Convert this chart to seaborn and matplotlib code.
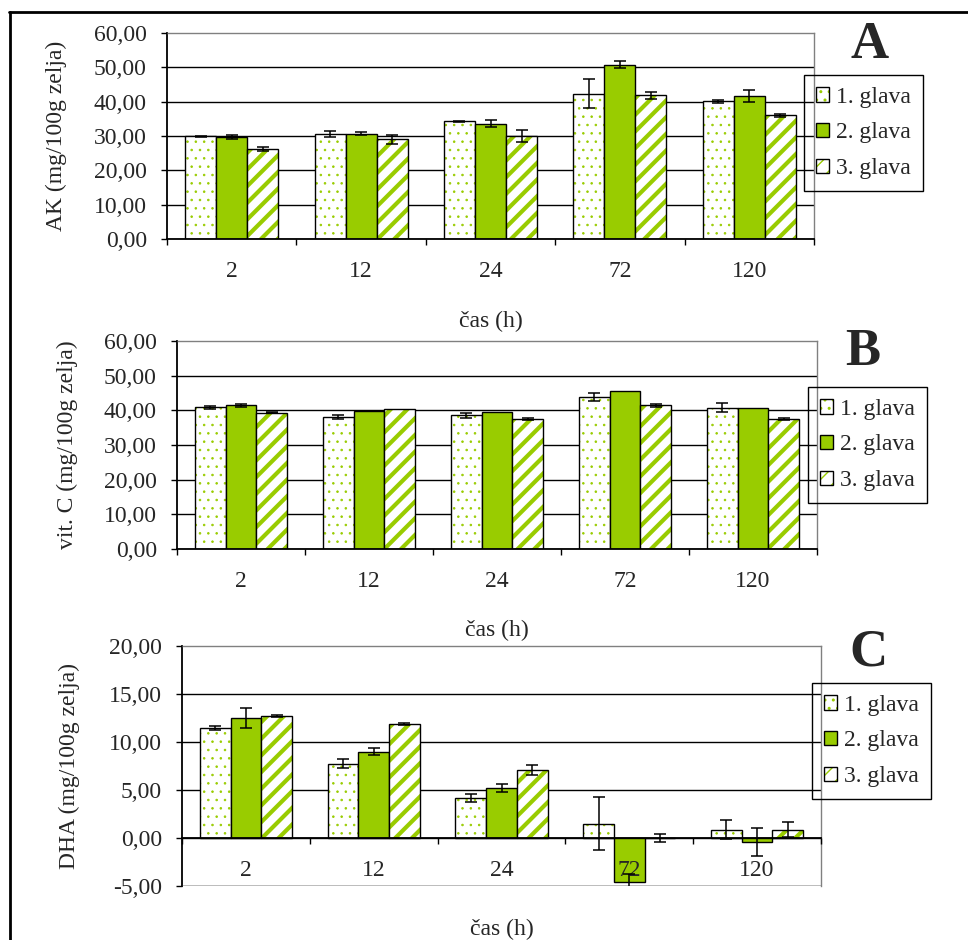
import pandas as pd
import numpy as np
import matplotlib
matplotlib.use("Agg")
import matplotlib.pyplot as plt
import matplotlib.colors as mcolors
from matplotlib.lines import Line2D
import seaborn as sns

CAS = ["2", "12", "24", "72", "120"]
GLAVE = ["1. glava", "2. glava", "3. glava"]

# A - AK (mg/100g zelja)
AK_1 = [29.9, 30.5, 34.3, 42.3, 40.1]
AK_2 = [29.7, 30.7, 33.6, 50.8, 41.7]
AK_3 = [26.2, 29.0, 30.0, 41.8, 36.0]
AK_1_ERR = [0.2, 0.9, 0.1, 4.2, 0.4]
AK_2_ERR = [0.5, 0.4, 1.0, 1.1, 1.8]
AK_3_ERR = [0.5, 1.4, 1.8, 0.9, 0.4]

# B - vit. C (mg/100g zelja)
VITC_1 = [40.9, 38.0, 38.6, 43.8, 40.8]
VITC_2 = [41.4, 39.8, 39.4, 45.6, 40.8]
VITC_3 = [39.3, 40.3, 37.5, 41.4, 37.5]
VITC_1_ERR = [0.4, 0.6, 0.7, 1.2, 1.2]
VITC_2_ERR = [0.3, 0.0, 0.0, 0.0, 0.0]
VITC_3_ERR = [0.2, 0.0, 0.3, 0.4, 0.2]

# C - DHA (mg/100g zelja)
DHA_1 = [11.5, 7.75, 4.2, 1.5, 0.87]
DHA_2 = [12.5, 9.0, 5.2, -4.6, -0.42]
DHA_3 = [12.75, 11.9, 7.1, 0.0, 0.87]
DHA_1_ERR = [0.2, 0.43, 0.43, 2.75, 1.0]
DHA_2_ERR = [1.06, 0.36, 0.43, 0.9, 1.45]
DHA_3_ERR = [0.1, 0.1, 0.5, 0.4, 0.8]

GREEN = "#99CC00"
GRAY = "#808080"
FILLS = ["white", GREEN, "white"]
HATCHES = ["..", None, "//"]
HATCH_LW = [0.6, 1.0, 3.0]
FS = 17

sns.set_theme(style="white")
plt.rcParams["font.family"] = ["Liberation Serif", "DejaVu Serif"]


def long_table(series):
    rows = []
    for glava, vals in zip(GLAVE, series):
        for cas, v in zip(CAS, vals):
            rows.append({"cas": cas, "glava": glava, "val": v})
    return pd.DataFrame(rows)


def draw_panel(fig, rect, series, errors, ylim, step, ylabel, ylab_x, xlab_y,
               letter, letter_xy, legend_xy):
    ax = fig.add_axes(rect)
    df = long_table(series)
    sns.barplot(data=df, x="cas", y="val", hue="glava", order=CAS,
                hue_order=GLAVE, palette=FILLS, saturation=1, errorbar=None,
                width=0.72, gap=0, edgecolor="black", linewidth=1.0,
                legend=False, ax=ax)
    ax.set_axisbelow(False)

    for bars, hatch, hlw, errs in zip(ax.containers, HATCHES, HATCH_LW, errors):
        for p in bars:
            if hatch:
                p.set_hatch(hatch)
                if hasattr(p, "set_hatchcolor"):
                    p.set_hatchcolor(GREEN)
                else:
                    p._hatch_color = mcolors.to_rgba(GREEN)
                if hasattr(p, "set_hatch_linewidth"):
                    p.set_hatch_linewidth(hlw)
        xs = [p.get_x() + p.get_width() / 2 for p in bars]
        ys = list(bars.datavalues)
        keep = [i for i, e in enumerate(errs) if e > 0]
        ax.errorbar([xs[i] for i in keep], [ys[i] for i in keep],
                    yerr=[errs[i] for i in keep], fmt="none", ecolor="black",
                    elinewidth=1.1, capsize=4.5, capthick=1.1, zorder=3)

    ymin, ymax = ylim
    # spines first: moving a spine resets the tick styling
    for side in ["top", "right"]:
        ax.spines[side].set_color(GRAY)
        ax.spines[side].set_linewidth(1.0)
    ax.spines["left"].set_color("black")
    ax.spines["left"].set_linewidth(1.3)
    ax.spines["bottom"].set_color("black")
    ax.spines["bottom"].set_linewidth(1.3)
    if ymin < 0:
        ax.spines["bottom"].set_position(("data", 0))
        ax.axhline(ymin, color=GRAY, lw=1.0, zorder=2.6)

    ax.set_ylim(ymin, ymax)
    ax.set_xlim(-0.5, len(CAS) - 0.5)
    yt = np.arange(ymin, ymax + step / 2, step)
    ax.set_yticks(yt)
    ax.set_yticklabels([f"{v:.2f}".replace(".", ",") for v in yt], fontsize=FS)
    for v in yt[:-1]:
        ax.axhline(v, color="black", lw=1.0, zorder=0.5)

    ax.set_xticks(np.arange(-0.5, len(CAS), 1.0))
    ax.set_xticklabels([])
    ax.set_xticks(range(len(CAS)), minor=True)
    ax.set_xticklabels(CAS, minor=True, fontsize=FS)
    ax.tick_params(axis="x", which="major", direction="out", length=4.5,
                   width=1.0, color="black", bottom=True)
    ax.tick_params(axis="x", which="minor", length=0, pad=16, bottom=True,
                   labelsize=FS)
    ax.tick_params(axis="y", direction="out", length=4.5, width=1.0,
                   color="black", pad=10, left=True)

    ax.set_ylabel(ylabel, fontsize=FS)
    ax.yaxis.set_label_coords(ylab_x, 0.5)
    ax.set_xlabel("čas (h)", fontsize=FS)
    ax.xaxis.set_label_coords(0.5, xlab_y)

    fig.text(letter_xy[0] / 968, 1 - letter_xy[1] / 940, letter, fontsize=38,
             fontweight="bold", ha="center", va="center")

    leg = ax.legend(ax.containers, GLAVE, loc="upper left",
                    bbox_to_anchor=(legend_xy[0] / 968, 1 - legend_xy[1] / 940),
                    bbox_transform=fig.transFigure, borderaxespad=0,
                    fontsize=FS, handlelength=0.55, handleheight=0.55,
                    handletextpad=0.3, labelspacing=0.62, borderpad=0.5,
                    fancybox=False, framealpha=1)
    frame = leg.get_frame()
    frame.set_edgecolor("black")
    frame.set_linewidth(1.0)
    frame.set_facecolor("none")
    return ax


fig = plt.figure(figsize=(9.68, 9.4), dpi=100)

draw_panel(fig, [167 / 968, 1 - 239 / 940, 647 / 968, 206 / 940],
           [AK_1, AK_2, AK_3], [AK_1_ERR, AK_2_ERR, AK_3_ERR],
           (0, 60), 10, "AK (mg/100g zelja)", -0.155, -0.35,
           "A", (870, 45), (804, 75))

draw_panel(fig, [177 / 968, 1 - 549 / 940, 640 / 968, 208 / 940],
           [VITC_1, VITC_2, VITC_3], [VITC_1_ERR, VITC_2_ERR, VITC_3_ERR],
           (0, 60), 10, "vit. C (mg/100g zelja)", -0.155, -0.34,
           "B", (863, 352), (808, 387))

draw_panel(fig, [182 / 968, 1 - 886 / 940, 639 / 968, 240 / 940],
           [DHA_1, DHA_2, DHA_3], [DHA_1_ERR, DHA_2_ERR, DHA_3_ERR],
           (-5, 20), 5, "DHA (mg/100g zelja)", -0.16, -0.135,
           "C", (868, 652), (812, 683))

# outer frame
fig.add_artist(Line2D([9 / 968, 1], [1 - 12 / 940, 1 - 12 / 940],
                      transform=fig.transFigure, color="black", lw=2))
fig.add_artist(Line2D([10 / 968, 10 / 968], [0, 1 - 12 / 940],
                      transform=fig.transFigure, color="black", lw=2))

fig.savefig("out.png", dpi=100)
plt.close(fig)
